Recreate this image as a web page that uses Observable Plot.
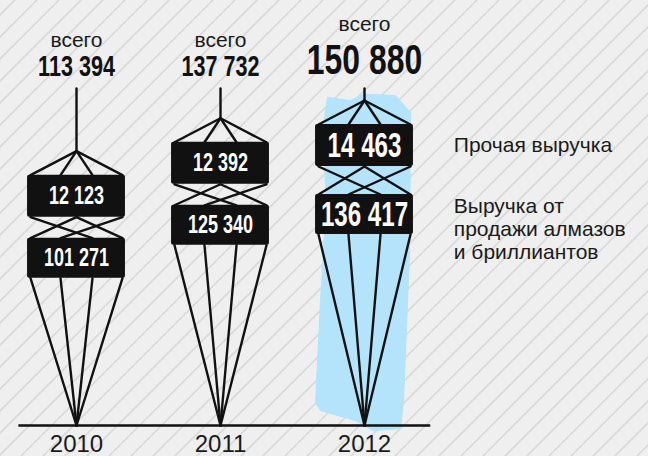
<!DOCTYPE html>
<html><head><meta charset="utf-8">
<script src="https://cdn.jsdelivr.net/npm/d3@7"></script>
<script src="https://cdn.jsdelivr.net/npm/@observablehq/plot@0.6"></script>
<style>
html,body{margin:0;padding:0;background:#efefef;}
body{width:648px;height:456px;overflow:hidden;}
</style></head><body><div id="chart"></div>
<script>
// ---- data ----
const years = [2010, 2011, 2012];
const otherRevenue = [12123, 12392, 14463];
const diamondRevenue = [101271, 125340, 136417];
const totalRevenue = [113394, 137732, 150880];
const totalWord = "всего";
const legendOther = "Прочая выручка";
const legendDiamond = "Выручка от\nпродажи алмазов\nи бриллиантов";
const highlightYear = 2012;

// ---- layout ----
const W = 648, H = 456, MB = 31;
const xDomain = [2009.4722, 2013.9722];
const XU = (xDomain[1] - xDomain[0]) / W;            // year units per pixel
const yDomain = [-89500, 224850];
const U = (yDomain[1] - yDomain[0]) / (H - MB);      // value units per pixel
const base = yDomain[0];
const NUM = "Liberation Sans, Arial, sans-serif";
const TXT = "Liberation Sans, sans-serif";
const fmt = d3.formatLocale({thousands: " ", grouping: [3], decimal: ","}).format(",d");

const towers = years.map((year, i) => {
  const hl = year === highlightYear;
  const apex = totalRevenue[i];
  const b1t = apex - 24 * U, b1b = b1t - 42 * U;
  const b2t = b1b - (hl ? 28 : 21) * U, b2b = b2t - 40 * U;
  return {year, hl, apex, b1t, b1b, b2t, b2b,
    other: otherRevenue[i], diamond: diamondRevenue[i], total: totalRevenue[i]};
});
const stemTop = base + (H - MB - 88) * U;
const P = [-0.3194, -0.1111, 0.1111, 0.3194];
const HW = 0.34;

const segs = [];
const boxes = [];
for (const t of towers) {
  const x = t.year;
  segs.push({x1: x, y1: stemTop, x2: x, y2: t.apex});
  for (const p of P) segs.push({x1: x, y1: t.apex, x2: x + p, y2: t.b1t});
  segs.push({x1: x + P[0], y1: t.b1b, x2: x + P[2], y2: t.b2t});
  segs.push({x1: x, y1: t.b1b, x2: x + P[0], y2: t.b2t});
  segs.push({x1: x, y1: t.b1b, x2: x + P[3], y2: t.b2t});
  segs.push({x1: x + P[3], y1: t.b1b, x2: x + P[1], y2: t.b2t});
  for (const p of P) segs.push({x1: x + p, y1: t.b2b, x2: x, y2: base});
  boxes.push({year: x, hl: t.hl, x1: x - HW, x2: x + HW, y1: t.b1b, y2: t.b1t, yc: (t.b1t + t.b1b) / 2, label: fmt(t.other)});
  boxes.push({year: x, hl: t.hl, x1: x - HW, x2: x + HW, y1: t.b2b, y2: t.b2t, yc: (t.b2t + t.b2b) / 2, label: fmt(t.diamond)});
}

// highlight brush behind the 2012 tower: [x offset, fraction of tower height]
const hlTower = towers.find(t => t.hl);
const brushShape = [[-0.257, 1.01], [-0.1, 1.0], [0.0, 1.02], [0.215, 1.015], [0.32, 0.963], [0.313, 0.535],
  [0.271, 0.076], [0.25, -0.01], [0.056, -0.015], [-0.0625, 0.015], [-0.306, 0.046], [-0.34, 0.07],
  [-0.306, 0.38], [-0.264, 0.69], [-0.292, 0.9], [-0.257, 1.01]];
const brush = brushShape.map(([dx, f]) => ({x: hlTower.year + dx, y: base + f * (hlTower.apex - base)}));

// diagonal hatch of the paper background (45°, every 22 px horizontally)
const yLow = base - (MB + 20) * U, yHigh = yDomain[1] + 20 * U;
const span = (H + 40) * XU;
const hatch = d3.range(-24, 32).map(k => ({x1: xDomain[0] + k * 22 * XU, x2: xDomain[0] + k * 22 * XU + span}));

const plot = Plot.plot({
  width: W, height: H,
  marginTop: 0, marginRight: 0, marginBottom: MB, marginLeft: 0,
  x: {domain: xDomain, label: null},
  y: {domain: yDomain, axis: null},
  style: {background: "#efefef", overflow: "hidden"},
  marks: [
    Plot.rect([0], {x1: xDomain[0], x2: xDomain[1], y1: base - MB * U, y2: yDomain[1], fill: "#efefef"}),
    Plot.link(hatch, {x1: "x1", x2: "x2", y1: yLow, y2: yHigh, stroke: "#d9d9d9", strokeWidth: 1.6}),
    Plot.line(brush, {x: "x", y: "y", fill: "#b4e4fb", stroke: "#b4e4fb", strokeWidth: 1, curve: "linear"}),
    Plot.ruleY([base], {x1: 2009.6, x2: 2012.46, stroke: "#111", strokeWidth: 2.5}),
    Plot.link(segs, {x1: "x1", y1: "y1", x2: "x2", y2: "y2", stroke: "#111", strokeWidth: 2.4, strokeLinecap: "round"}),
    Plot.rect(boxes, {x1: "x1", x2: "x2", y1: "y1", y2: "y2", fill: "#111", rx: 2}),
    Plot.text(boxes.filter(b => !b.hl), {x: "year", y: "yc", text: "label", fill: "white", fontSize: 25, fontWeight: "bold", fontFamily: NUM, lineAnchor: "middle"}),
    Plot.text(boxes.filter(b => b.hl), {x: "year", y: "yc", text: "label", fill: "white", fontSize: 35, fontWeight: "bold", fontFamily: NUM, lineAnchor: "middle"}),
    Plot.text(towers.filter(t => !t.hl), {x: "year", frameAnchor: "top", dy: 46, lineAnchor: "bottom", text: () => totalWord, fill: "#1a1a1a", fontSize: 21, fontFamily: TXT}),
    Plot.text(towers.filter(t => t.hl), {x: "year", frameAnchor: "top", dy: 30, lineAnchor: "bottom", text: () => totalWord, fill: "#1a1a1a", fontSize: 21, fontFamily: TXT}),
    Plot.text(towers.filter(t => !t.hl), {x: "year", frameAnchor: "top", dy: 75, lineAnchor: "bottom", text: t => fmt(t.total), fill: "#111", fontSize: 30, fontWeight: "bold", fontFamily: NUM}),
    Plot.text(towers.filter(t => t.hl), {x: "year", frameAnchor: "top", dy: 73, lineAnchor: "bottom", text: t => fmt(t.total), fill: "#111", fontSize: 42, fontWeight: "bold", fontFamily: NUM}),
    Plot.text([hlTower], {x: t => t.year + 0.62, y: t => (t.b1t + t.b1b) / 2, text: () => legendOther, textAnchor: "start", lineAnchor: "middle", fill: "#1a1a1a", fontSize: 21, fontFamily: TXT}),
    Plot.text([hlTower], {x: t => t.year + 0.62, y: t => t.b2t, dy: 2, text: () => legendDiamond, textAnchor: "start", lineAnchor: "top", lineHeight: 1.1, fill: "#1a1a1a", fontSize: 21, fontFamily: TXT}),
    Plot.axisX(years, {tickFormat: d => String(d), tickSize: 0, tickPadding: 9, fontSize: 24, fontFamily: TXT, fill: "#1a1a1a", label: null})
  ]
});

// condense the number glyphs horizontally
const SX = {"25": 0.72, "30": 0.72, "35": 0.69, "42": 0.76};
d3.select(plot).selectAll("g").filter(function () { return this.getAttribute("font-family") === NUM; })
  .each(function () {
    const s = SX[this.getAttribute("font-size")] ?? 0.72;
    d3.select(this).selectAll("text").attr("transform", function () {
      return (this.getAttribute("transform") || "") + ` scale(${s},1)`;
    });
  });

document.getElementById("chart").appendChild(plot);
</script>
</body></html>
